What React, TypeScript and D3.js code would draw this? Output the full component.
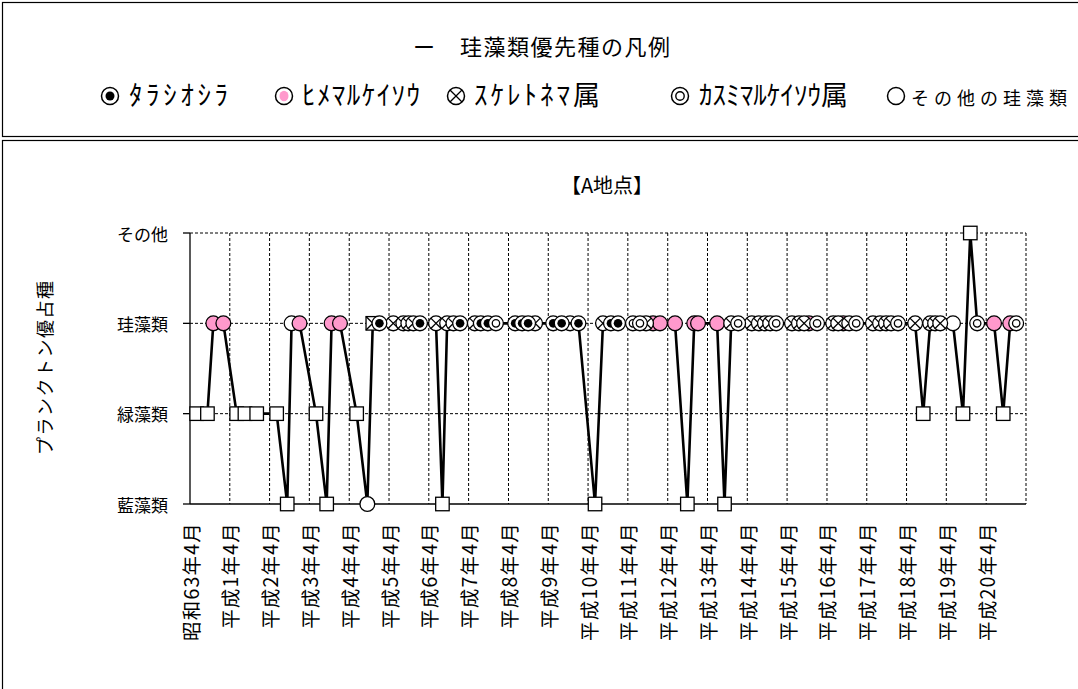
import React from "react";
import * as d3 from "d3";

const levels = ["藍藻類", "緑藻類", "珪藻類", "その他"];

const xTickLabels = [
  "昭和63年4月", "平成1年4月", "平成2年4月", "平成3年4月", "平成4年4月", "平成5年4月",
  "平成6年4月", "平成7年4月", "平成8年4月", "平成9年4月", "平成10年4月", "平成11年4月",
  "平成12年4月", "平成13年4月", "平成14年4月", "平成15年4月", "平成16年4月", "平成17年4月",
  "平成18年4月", "平成19年4月", "平成20年4月",
];

const legendItems = ["タラシオシラ", "ヒメマルケイソウ", "スケレトネマ属", "カスミマルケイソウ属", "その他の珪藻類"];
const legendLabels = ["ﾀﾗｼｵｼﾗ", "ﾋﾒﾏﾙｹｲｿｳ", "ｽｹﾚﾄﾈﾏ属", "ｶｽﾐﾏﾙｹｲｿｳ属", "その他の珪藻類"];

const sampleDates = [
  "1988-06-01", "1988-09-08", "1988-11-01", "1989-02-01", "1989-06-03", "1989-08-18", "1989-12-04",
  "1990-06-05", "1990-09-10", "1990-10-20", "1991-01-01", "1991-06-01", "1991-09-07", "1991-10-22",
  "1992-01-07", "1992-06-08", "1992-09-14", "1992-11-03", "1993-01-03", "1993-05-10", "1993-08-10",
  "1993-09-25", "1993-11-10", "1994-01-10", "1994-06-06", "1994-08-04", "1994-09-16", "1994-11-13",
  "1995-01-13", "1995-05-28", "1995-07-22", "1995-09-25", "1995-12-08", "1996-06-01", "1996-08-04",
  "1996-09-28", "1996-12-01", "1997-05-16", "1997-08-02", "1997-10-18", "1998-01-03", "1998-06-04",
  "1998-08-16", "1998-10-28", "1999-01-01", "1999-05-18", "1999-07-21", "1999-09-15", "1999-11-18",
  "2000-01-21", "2000-06-07", "2000-09-28", "2000-11-30", "2001-01-04", "2001-06-28", "2001-09-04",
  "2001-11-04", "2002-01-07", "2002-05-13", "2002-07-16", "2002-09-10", "2002-10-28", "2002-12-22",
  "2003-05-16", "2003-07-19", "2003-09-04", "2003-10-19", "2004-01-01", "2004-05-28", "2004-07-13",
  "2004-08-28", "2004-10-22", "2004-12-25", "2005-05-28", "2005-08-01", "2005-09-25", "2005-11-10",
  "2006-01-13", "2006-06-19", "2006-09-01", "2006-11-04", "2006-12-19", "2007-02-04", "2007-06-01",
  "2007-09-01", "2007-11-07", "2008-01-09", "2008-06-12", "2008-09-04", "2008-11-07", "2009-01-01",
];

const dominantGroup = [
  "緑藻類", "緑藻類", "珪藻類", "珪藻類", "緑藻類", "緑藻類", "緑藻類",
  "緑藻類", "藍藻類", "珪藻類", "珪藻類", "緑藻類", "藍藻類", "珪藻類",
  "珪藻類", "緑藻類", "藍藻類", "珪藻類", "珪藻類", "珪藻類", "珪藻類",
  "珪藻類", "珪藻類", "珪藻類", "珪藻類", "藍藻類", "珪藻類", "珪藻類",
  "珪藻類", "珪藻類", "珪藻類", "珪藻類", "珪藻類", "珪藻類", "珪藻類",
  "珪藻類", "珪藻類", "珪藻類", "珪藻類", "珪藻類", "珪藻類", "藍藻類",
  "珪藻類", "珪藻類", "珪藻類", "珪藻類", "珪藻類", "珪藻類", "珪藻類",
  "珪藻類", "珪藻類", "藍藻類", "珪藻類", "珪藻類", "珪藻類", "藍藻類",
  "珪藻類", "珪藻類", "珪藻類", "珪藻類", "珪藻類", "珪藻類", "珪藻類",
  "珪藻類", "珪藻類", "珪藻類", "珪藻類", "珪藻類", "珪藻類", "珪藻類",
  "珪藻類", "珪藻類", "珪藻類", "珪藻類", "珪藻類", "珪藻類", "珪藻類",
  "珪藻類", "珪藻類", "緑藻類", "珪藻類", "珪藻類", "珪藻類", "珪藻類",
  "緑藻類", "その他", "珪藻類", "珪藻類", "緑藻類", "珪藻類", "珪藻類",
];

// marker key: diatom species name, "□" square, "○" plain circle, "⊠" square + skeletonema
const markerKey = [
  "□", "□", "ヒメマルケイソウ", "ヒメマルケイソウ", "□", "□", "□",
  "□", "□", "その他の珪藻類", "ヒメマルケイソウ", "□", "□", "ヒメマルケイソウ",
  "ヒメマルケイソウ", "□", "○", "⊠", "タラシオシラ", "スケレトネマ属", "スケレトネマ属",
  "スケレトネマ属", "スケレトネマ属", "タラシオシラ", "スケレトネマ属", "□", "スケレトネマ属", "スケレトネマ属",
  "タラシオシラ", "スケレトネマ属", "タラシオシラ", "タラシオシラ", "カスミマルケイソウ属", "タラシオシラ", "タラシオシラ",
  "タラシオシラ", "スケレトネマ属", "タラシオシラ", "タラシオシラ", "スケレトネマ属", "タラシオシラ", "□",
  "スケレトネマ属", "タラシオシラ", "タラシオシラ", "カスミマルケイソウ属", "カスミマルケイソウ属", "スケレトネマ属", "ヒメマルケイソウ",
  "ヒメマルケイソウ", "ヒメマルケイソウ", "□", "ヒメマルケイソウ", "ヒメマルケイソウ", "ヒメマルケイソウ", "□",
  "スケレトネマ属", "カスミマルケイソウ属", "スケレトネマ属", "スケレトネマ属", "スケレトネマ属", "スケレトネマ属", "カスミマルケイソウ属",
  "スケレトネマ属", "スケレトネマ属", "スケレトネマ属", "ヒメマルケイソウ", "カスミマルケイソウ属", "スケレトネマ属", "スケレトネマ属",
  "ヒメマルケイソウ", "スケレトネマ属", "カスミマルケイソウ属", "スケレトネマ属", "スケレトネマ属", "スケレトネマ属", "スケレトネマ属",
  "カスミマルケイソウ属", "スケレトネマ属", "□", "スケレトネマ属", "スケレトネマ属", "スケレトネマ属", "その他の珪藻類",
  "□", "□", "カスミマルケイソウ属", "ヒメマルケイソウ", "□", "ヒメマルケイソウ", "カスミマルケイソウ属",
];

const drawOrder = ["□", "⊠", "○", "その他の珪藻類", "ヒメマルケイソウ", "スケレトネマ属", "タラシオシラ", "カスミマルケイソウ属"];

const PINK = "#ff99cc";
const FONT = "'Noto Sans CJK JP', 'Noto Sans', sans-serif";

function Marker({ kind, cx, cy, r = 7.4 }: { kind: string; cx: number; cy: number; r?: number }) {
  const sw = 1.3;
  if (kind === "□" || kind === "⊠") {
    const s = 13.5;
    return (
      <g>
        <rect x={cx - s / 2} y={cy - s / 2} width={s} height={s} fill="#fff" stroke="#000" strokeWidth={sw} />
        {kind === "⊠" && (
          <g>
            <line x1={cx - s / 2} y1={cy - s / 2} x2={cx + s / 2} y2={cy + s / 2} stroke="#000" strokeWidth={sw} />
            <line x1={cx - s / 2} y1={cy + s / 2} x2={cx + s / 2} y2={cy - s / 2} stroke="#000" strokeWidth={sw} />
          </g>
        )}
      </g>
    );
  }
  const d = r * Math.SQRT1_2;
  return (
    <g>
      <circle cx={cx} cy={cy} r={r} fill={kind === "ヒメマルケイソウ" ? PINK : "#fff"} stroke="#000" strokeWidth={sw} />
      {kind === "タラシオシラ" && <circle cx={cx} cy={cy} r={r * 0.58} fill="#000" />}
      {kind === "カスミマルケイソウ属" && <circle cx={cx} cy={cy} r={r * 0.5} fill="#fff" stroke="#000" strokeWidth={sw} />}
      {kind === "スケレトネマ属" && (
        <g>
          <line x1={cx - d} y1={cy - d} x2={cx + d} y2={cy + d} stroke="#000" strokeWidth={sw} />
          <line x1={cx - d} y1={cy + d} x2={cx + d} y2={cy - d} stroke="#000" strokeWidth={sw} />
        </g>
      )}
    </g>
  );
}

function LegendSymbol({ kind, cx, cy }: { kind: string; cx: number; cy: number }) {
  const r = 8.5;
  const d = r * Math.SQRT1_2;
  return (
    <g>
      <circle cx={cx} cy={cy} r={r} fill="#fff" stroke="#000" strokeWidth={1.5} />
      {kind === "タラシオシラ" && <circle cx={cx} cy={cy} r={4.5} fill="#000" />}
      {kind === "ヒメマルケイソウ" && <ellipse cx={cx} cy={cy} rx={4.5} ry={5.3} fill={PINK} />}
      {kind === "カスミマルケイソウ属" && <circle cx={cx} cy={cy} r={4.2} fill="#fff" stroke="#000" strokeWidth={1.4} />}
      {kind === "スケレトネマ属" && (
        <g>
          <line x1={cx - d} y1={cy - d} x2={cx + d} y2={cy + d} stroke="#000" strokeWidth={1.3} />
          <line x1={cx - d} y1={cy + d} x2={cx + d} y2={cy - d} stroke="#000" strokeWidth={1.3} />
        </g>
      )}
    </g>
  );
}

export default function App() {
  const W = 1078;
  const H = 689;
  const parse = d3.timeParse("%Y-%m-%d");
  const start = new Date(1988, 3, 1);
  const end = new Date(2009, 3, 1);
  const x = d3.scaleTime().domain([start, end]).range([190, 1026]);
  const y = d3.scalePoint<string>().domain(levels).range([504, 233]);

  const pts = sampleDates.map((s, i) => ({
    x: x(parse(s) as Date),
    y: y(dominantGroup[i]) as number,
    kind: markerKey[i],
  }));

  const line = d3.line<{ x: number; y: number }>().x((d) => d.x).y((d) => d.y);
  const years = d3.range(0, 22).map((k) => new Date(1988 + k, 3, 1));

  const legendX = [110, 284, 456, 680, 896];
  const legendTextX = [129, 302, 474, 699, 911];
  const legendTextW = [99, 118, 126, 149, 156];
  const legendFont = [27, 27, 27, 27, 18];

  const ordered = drawOrder.flatMap((k) => pts.filter((p) => p.kind === k));

  return (
    <svg width={W} height={H} style={{ position: "absolute", left: 0, top: 0, background: "#fff" }} fontFamily={FONT}>
      {/* frames */}
      <rect x={2.5} y={2.5} width={1100} height={134} fill="none" stroke="#000" strokeWidth={1.2} />
      <rect x={2.5} y={140.5} width={1100} height={600} fill="none" stroke="#000" strokeWidth={1.2} />

      {/* legend */}
      <text x={413} y={55} fontSize={22} textLength={257} lengthAdjust="spacing">ー　珪藻類優先種の凡例</text>
      {legendItems.map((k, i) => (
        <g key={k}>
          <LegendSymbol kind={k} cx={legendX[i]} cy={96} />
          <text
            x={legendTextX[i]}
            y={105}
            fontSize={legendFont[i]}
            textLength={legendTextW[i]}
            lengthAdjust="spacing"
          >
            {legendLabels[i]}
          </text>
        </g>
      ))}

      {/* title */}
      <text x={607} y={193} fontSize={20} textAnchor="middle">【A地点】</text>

      {/* grid */}
      {years.slice(1).map((d, i) => (
        <line key={i} x1={x(d)} x2={x(d)} y1={233} y2={504} stroke="#000" strokeWidth={1} strokeDasharray="3,2" />
      ))}
      {levels.slice(1).map((l) => (
        <line key={l} x1={190} x2={1026} y1={y(l)} y2={y(l)} stroke="#000" strokeWidth={1} strokeDasharray="3,2" />
      ))}

      {/* axes */}
      <line x1={190} x2={190} y1={233} y2={504} stroke="#000" strokeWidth={1.3} />
      <line x1={190} x2={1026} y1={504} y2={504} stroke="#000" strokeWidth={1.3} />
      {levels.map((l) => (
        <g key={l}>
          <line x1={183} x2={190} y1={y(l)} y2={y(l)} stroke="#000" strokeWidth={1.3} />
          <text x={168} y={y(l)} fontSize={17} textAnchor="end" dominantBaseline="central">{l}</text>
        </g>
      ))}
      {xTickLabels.map((t, i) => (
        <text
          key={t}
          transform={`translate(${x(years[i])},522) rotate(-90)`}
          fontSize={19.5}
          textAnchor="end"
          dominantBaseline="central"
          letterSpacing={1.2}
        >
          {t}
        </text>
      ))}

      <text transform="translate(44,368) rotate(-90)" fontSize={18} textAnchor="middle" dominantBaseline="central" textLength={174} lengthAdjust="spacing">
        プランクトン優占種
      </text>

      {/* series line */}
      <path d={line(pts) || ""} fill="none" stroke="#000" strokeWidth={2.6} strokeLinejoin="round" />

      {/* markers */}
      {ordered.map((p, i) => (
        <Marker key={i} kind={p.kind} cx={p.x} cy={p.y} />
      ))}
    </svg>
  );
}
